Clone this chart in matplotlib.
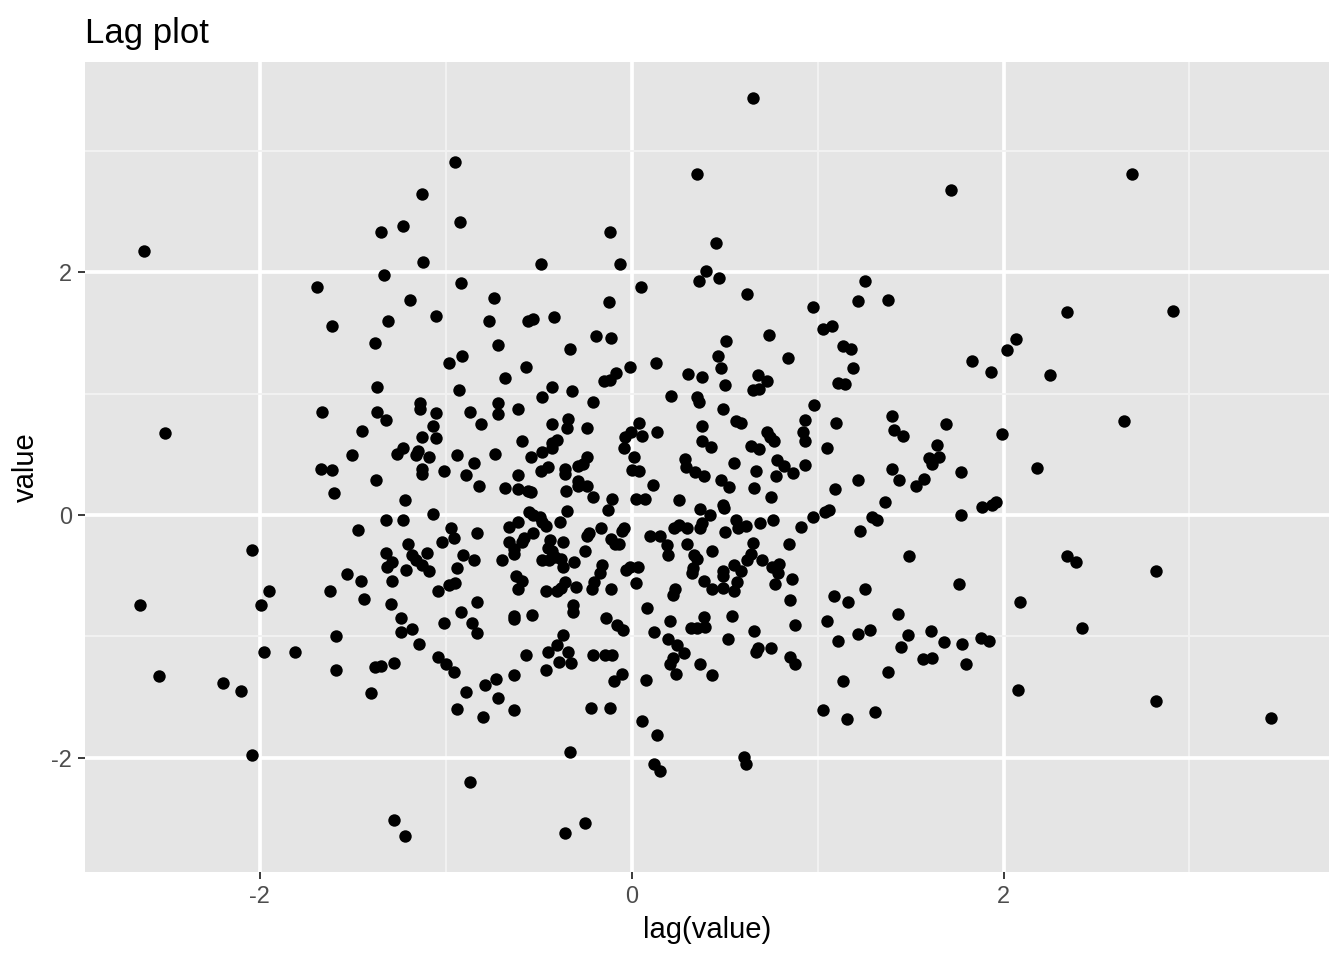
import matplotlib
matplotlib.use("Agg")
import matplotlib.pyplot as plt
from matplotlib.ticker import MultipleLocator

# --- data (lag(value), value) ---
lag_value = [
    -2.62, -1.35, -1.33, -1.69, -1.61, -1.31,
    -0.95, -1.13, -1.23, -0.925, -1.12, -0.49, -0.115, -0.06, 0.35, 0.40, 0.36, 0.05,
    -0.92, -1.19, -1.05, -0.74, -0.765, -0.56, -0.53, -0.415, -0.12,
    0.65, 1.715, 0.455, 0.47, 0.62, 0.977, 1.254, 1.217, 1.378,
    2.69, 2.34, 2.91,
    -1.38, -1.37, -1.665, -1.37, -1.32, -1.45, -1.26, -1.505, -1.67, -1.61, -1.376, -1.60,
    -2.51, -1.32, -1.47, -2.04, -1.32, -1.315, -1.29, -1.53, -1.455, -1.29, -1.62, -1.95,
    -1.44, -2.645, -1.995, -1.295,
    -0.19, -0.11, -0.72, -0.33, -0.91, -0.98, -0.57, -0.01, 0.13, -0.086, -0.15, -0.117,
    -0.68, 0.305, 0.38, -0.93, -0.43, -0.48, -0.32, 0.21, 0.353, 0.36, -0.21, -1.14, -1.14,
    -0.72, -1.05, -0.87, -0.72, -0.61, -0.34, -0.35, -0.43, -0.24, -0.81, -1.07, 0.04,
    0.136, 0.055, -0.005, -0.036, -0.04, 0.38, 0.38, -1.13, -1.05, -0.59, -0.40, -0.43,
    -0.43, -0.48, -1.23, -1.15, -1.16, -1.09, -0.94, -0.735, -0.54, -0.24, 0.015, 0.287,
    -0.85, -0.29, -0.26, -0.45, -0.49, -0.36, -0.36, -1.125, -1.13, -1.01, 0.004, 0.04,
    0.294, 0.34, 0.39, -0.89, -0.61, -0.82, -0.68, -0.61, -0.555, -0.54, -0.29, -0.29,
    -0.24, -0.355, -0.21, 0.113, -0.104, 0.025, 0.07, 0.254, -0.125, 0.37, 0.376, -1.22,
    -1.066, -1.23, -0.35, -0.55, -0.53, -0.495, -0.48, -0.46, -0.385, -0.61, -0.66, -0.97,
    -0.955, -0.83, -0.53, -0.58, -0.59, -0.66, -0.63, -0.63, -0.167, -0.23, -0.24, -0.04,
    -0.05, -0.11, -0.09, -0.07, -0.37, -0.44, -0.45, -0.43, -0.48, -0.445, -0.41, -0.38,
    -0.37, -0.25, -0.31, -0.695, -1.20, -1.10, -1.18, -1.16, -1.13, -1.09, -1.02, -0.905,
    -0.85, -0.94, -1.215, -0.16, -0.17, -0.20, -0.215, -0.03, -0.01, 0.036, 0.025, 0.10,
    0.15, 0.19, 0.197, 0.227, 0.254, 0.30, 0.366, 0.30, 0.335, 0.353, 0.33, 0.326, 0.39,
    0.233, 0.22, -0.62, -0.59, -0.61, -0.36, -0.30, -0.11, -0.46, -0.40, -0.38, -0.98,
    -0.95, -1.04, -0.83, -0.315, -0.315,
    0.74, 1.03, 1.08, 0.51, 0.464, 0.48, 0.84, 1.136, 1.18, 1.19, 1.11, 1.15, 0.50, 0.68,
    0.726, 0.687, 0.65, 1.83, 1.93, 2.02, 2.066, 0.98, 0.49, 0.56, 0.59, 0.93, 1.10, 1.40,
    1.69, 1.99, 0.726, 0.744, 0.767, 0.92, 0.935, 1.41, 1.46, 1.64, 0.425, 0.64, 0.687,
    1.05, 1.60, 1.655, 1.615, 0.55, 0.78, 0.82, 0.935, 0.67, 0.87, 0.774, 1.40, 1.77,
    1.215, 1.44, 1.57, 1.53, 0.48, 0.525, 0.66, 0.75, 1.095, 1.36, 0.49, 0.496, 0.42,
    1.04, 1.06, 0.977, 1.885, 1.94, 1.96, 1.77, 1.29, 1.32, 0.56, 0.57, 0.614, 0.69, 0.76,
    0.91, 0.50, 1.23, 0.65, 0.846, 0.434, 0.64, 0.62, 0.70, 1.49, 0.55, 0.59, 0.49, 0.49,
    0.757, 0.79, 0.785, 0.565, 0.86, 0.77, 0.49, 0.43, 0.55, 0.85, 1.09, 1.165, 1.256,
    1.76, 2.09,
    2.25, 2.65, 2.18, 2.34, 2.39, 2.82,
    -1.59, -1.975, -1.81, -1.59, -1.38, -1.35, -1.28, -1.40, -2.54, -2.20, -2.10, -2.04,
    -1.28,
    -1.24, -1.24, -1.18, -1.145, -0.92, -1.01, -0.856, -0.83, -0.63, -0.63, -0.536, -0.37,
    -0.40, -0.45, -0.34, -0.324, -0.39, -0.46, -0.57, -0.63, -0.136, -0.077, -0.045, -0.21,
    -0.145, -0.104, -0.054, -0.095, -1.04, -1.00, -0.955, -0.89, -0.79, -0.73, -0.72,
    -0.94, -0.80, -0.63, -0.22, -0.115, 0.054, 0.136, -0.333, 0.12, 0.15, -0.87, -1.22,
    -0.25, -0.36, 0.08, 0.206, 0.12, 0.197, 0.246, 0.28, 0.22, 0.206, 0.24, 0.075, 0.367,
    0.317, 0.353, 0.39,
    0.395, 0.54, 0.52, 0.66, 0.68, 0.67, 0.75, 0.85, 0.88, 0.88, 0.434, 0.606, 0.615,
    1.05, 1.11, 1.22, 1.28, 1.134, 1.027, 1.156, 1.31, 1.43, 1.484, 1.45, 1.38, 1.61,
    1.565, 1.617, 1.68, 1.774, 1.80, 1.88, 1.92, 2.08,
    2.42, 2.82, 3.44,
]

value = [
    2.17, 2.33, 1.98, 1.88, 1.56, 1.60,
    2.91, 2.64, 2.38, 2.41, 2.08, 2.07, 2.33, 2.07, 2.81, 2.01, 1.93, 1.88,
    1.91, 1.77, 1.64, 1.79, 1.60, 1.60, 1.61, 1.63, 1.75,
    3.43, 2.68, 2.24, 1.95, 1.82, 1.71, 1.93, 1.76, 1.77,
    2.81, 1.67, 1.68,
    1.42, 1.05, 0.845, 0.85, 0.78, 0.69, 0.50, 0.49, 0.38, 0.37, 0.29, 0.18,
    0.675, -0.04, -0.12, -0.29, -0.31, -0.43, -0.39, -0.49, -0.54, -0.54, -0.63, -0.63,
    -0.69, -0.74, -0.74, -0.73,
    1.47, 1.46, 1.40, 1.37, 1.31, 1.25, 1.22, 1.22, 1.25, 1.17, 1.10, 1.11,
    1.13, 1.16, 1.14, 1.03, 1.05, 0.97, 1.02, 0.98, 0.97, 0.93, 0.93, 0.92, 0.87,
    0.92, 0.84, 0.85, 0.83, 0.875, 0.79, 0.72, 0.75, 0.72, 0.75, 0.735, 0.76,
    0.68, 0.65, 0.68, 0.64, 0.55, 0.73, 0.61, 0.64, 0.63, 0.61, 0.62, 0.59,
    0.55, 0.52, 0.55, 0.53, 0.49, 0.475, 0.49, 0.50, 0.48, 0.48, 0.48, 0.46,
    0.43, 0.40, 0.42, 0.395, 0.36, 0.38, 0.34, 0.38, 0.335, 0.36, 0.37, 0.36,
    0.395, 0.35, 0.32, 0.33, 0.33, 0.24, 0.225, 0.21, 0.20, 0.19, 0.28, 0.24,
    0.24, 0.20, 0.15, 0.25, 0.13, 0.13, 0.13, 0.12, 0.04, 0.05, -0.07, 0.12,
    0.01, -0.04, 0.035, 0.025, 0.00, -0.02, -0.06, -0.09, -0.06, -0.06, -0.10, -0.11,
    -0.19, -0.15, -0.15, -0.19, -0.22, -0.22, -0.28, -0.32, -0.11, -0.15, -0.17, -0.11,
    -0.13, -0.20, -0.24, -0.24, -0.22, -0.21, -0.27, -0.30, -0.37, -0.37, -0.35, -0.36,
    -0.43, -0.30, -0.39, -0.37, -0.24, -0.31, -0.33, -0.37, -0.41, -0.46, -0.22, -0.33,
    -0.37, -0.44, -0.45, -0.41, -0.48, -0.55, -0.61, -0.45, -0.43, -0.43, -0.56, -0.17,
    -0.17, -0.25, -0.33, -0.11, -0.085, -0.11, -0.11, -0.24, -0.33, -0.36, -0.44, -0.48, -0.54,
    -0.61, -0.66, -0.50, -0.54, -0.61, -0.55, -0.59, -0.61, -0.63, -0.63, -0.60, -0.58,
    -0.56, -0.63, -0.72, -0.74, -0.80,
    1.48, 1.53, 1.56, 1.43, 1.31, 1.21, 1.29, 1.39, 1.37, 1.21, 1.09, 1.08, 1.07, 1.15,
    1.10, 1.04, 1.03, 1.27, 1.18, 1.355, 1.445, 0.905, 0.87, 0.77, 0.76, 0.78, 0.76, 0.815,
    0.75, 0.67, 0.68, 0.64, 0.61, 0.68, 0.61, 0.70, 0.65, 0.58, 0.56, 0.565, 0.54,
    0.55, 0.47, 0.48, 0.42, 0.43, 0.45, 0.40, 0.41, 0.36, 0.345, 0.32, 0.38, 0.35,
    0.29, 0.29, 0.30, 0.235, 0.285, 0.23, 0.22, 0.15, 0.21, 0.105, 0.08, 0.055, 0.00,
    0.025, 0.04, -0.02, 0.066, 0.08, 0.11, 0.00, -0.02, -0.04, -0.04, -0.11, -0.09, -0.07, -0.04,
    -0.10, -0.14, -0.13, -0.23, -0.24, -0.30, -0.32, -0.37, -0.37, -0.34, -0.41, -0.46, -0.46, -0.50,
    -0.43, -0.40, -0.48, -0.55, -0.53, -0.57, -0.60, -0.61, -0.63, -0.70, -0.67, -0.72, -0.61,
    -0.57, -0.72,
    1.15, 0.77, 0.39, -0.34, -0.39, -0.46,
    -1.00, -1.13, -1.13, -1.28, -1.25, -1.245, -1.22, -1.47, -1.33, -1.38, -1.45, -1.975,
    -2.51,
    -0.85, -0.96, -0.94, -1.06, -0.80, -0.89, -0.89, -0.97, -0.83, -0.86, -0.825, -0.985,
    -1.07, -1.13, -1.13, -1.22, -1.21, -1.28, -1.155, -1.32, -0.85, -0.91, -0.95, -1.15,
    -1.15, -1.15, -1.31, -1.37, -1.17, -1.23, -1.29, -1.46, -1.40, -1.35, -1.51,
    -1.60, -1.66, -1.61, -1.59, -1.59, -1.70, -1.81, -1.955, -2.05, -2.11, -2.20, -2.645,
    -2.54, -2.62, -0.765, -0.87, -0.96, -1.02, -1.07, -1.14, -1.18, -1.23, -1.31, -1.36, -1.23,
    -0.93, -0.93, -0.84,
    -0.92, -0.83, -1.02, -0.955, -1.095, -1.13, -1.095, -1.17, -1.23, -0.91, -1.32, -1.99, -2.05,
    -0.87, -1.04, -0.98, -0.95, -1.37, -1.61, -1.68, -1.62, -0.815, -0.985, -1.09, -1.29, -0.955,
    -1.19, -1.18, -1.05, -1.06, -1.23, -1.01, -1.04, -1.44,
    -0.935, -1.53, -1.67,
]

x_ticks = [-2, 0, 2]
y_ticks = [-2, 0, 2]
tick_labels = ["-2", "0", "2"]

plt.rcParams["font.family"] = ["Liberation Sans", "DejaVu Sans"]
plt.rcParams["axes.unicode_minus"] = False

fig = plt.figure(figsize=(13.44, 9.6), dpi=100)
ax = fig.add_axes([0.0632, 0.0917, 0.9256, 0.8437])

ax.scatter(lag_value, value, s=80, color="black", linewidths=0, zorder=3)

ax.set_facecolor("#E5E5E5")
ax.set_xlim(-2.94, 3.75)
ax.set_ylim(-2.94, 3.73)

ax.set_xticks(x_ticks)
ax.set_xticklabels(tick_labels)
ax.set_yticks(y_ticks)
ax.set_yticklabels(tick_labels)
ax.xaxis.set_minor_locator(MultipleLocator(1))
ax.yaxis.set_minor_locator(MultipleLocator(1))

ax.grid(which="major", color="white", linewidth=2.7)
ax.grid(which="minor", color="#F2F2F2", linewidth=1.35)
ax.set_axisbelow(True)

ax.tick_params(axis="both", which="major", length=5.3, width=1.35, color="#333333",
               labelsize=16.9, labelcolor="#4D4D4D", pad=4)
ax.tick_params(axis="both", which="minor", length=0)
for side in ["top", "right", "bottom", "left"]:
    ax.spines[side].set_visible(False)

ax.set_xlabel("lag(value)", fontsize=21, color="black", labelpad=6)
ax.set_ylabel("value", fontsize=21, color="black", labelpad=8)
ax.set_title("Lag plot", loc="left", fontsize=25, color="black", pad=14)

fig.savefig("out.png", dpi=100, facecolor="white")
